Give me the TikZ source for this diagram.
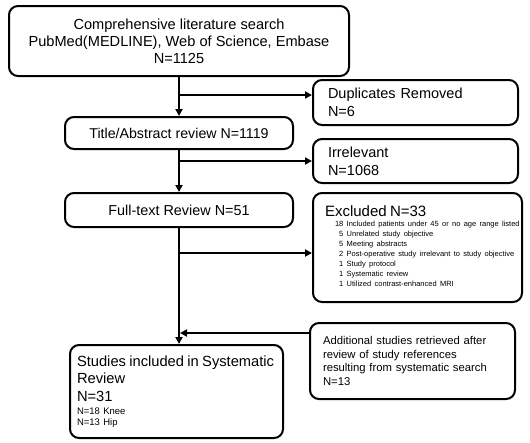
\documentclass[tikz,border=0pt]{standalone}
\usepackage{fontspec}
\setmainfont{Liberation Sans}
\usetikzlibrary{arrows.meta}
\begin{document}
\begin{tikzpicture}[x=1pt,y=-1pt,
  box/.style={draw, line width=2pt, rounded corners=9pt, inner ysep=0pt, inner xsep=0pt},
  lbox/.style={box, text width=#1, align=left},
  conn/.style={line width=2pt},
  arr/.style={conn,-{Triangle[length=7pt,width=7pt]}}]
\useasboundingbox (0,0) rectangle (530,442);
\node[box, minimum width=340pt, minimum height=70pt, align=center,
  font=\fontsize{14.6}{17}\selectfont] (search) at (179,41)
  {Comprehensive literature search\\PubMed(MEDLINE), Web of Science, Embase\\N=1125};
\node[lbox=205pt, minimum height=45pt,
  font=\fontsize{14.5}{18}\selectfont] (dup) at (415.5,102.5)
  {\leftskip=15pt Duplicates Removed\\N=6\par};
\node[box, minimum width=228pt, minimum height=32pt, align=center,
  font=\fontsize{14.2}{16}\selectfont] (title) at (179,133)
  {Title/Abstract review N=1119};
\node[lbox=205pt, minimum height=44pt,
  font=\fontsize{14.5}{18}\selectfont] (irr) at (415.5,161)
  {\leftskip=15pt Irrelevant\\N=1068\par};
\node[box, minimum width=228pt, minimum height=34pt, align=center,
  font=\fontsize{14.4}{16}\selectfont] (full) at (179,210)
  {Full-text Review N=51};
\node[lbox=209pt, minimum height=109pt] (excl) at (417.5,247.5)
  {\leftskip=12pt \fontsize{15}{18}\selectfont Excluded N=33\par
   \vspace{1pt}\fontsize{7.5}{10}\selectfont\hspace*{10pt}\begin{tabular}{@{}r@{\ }l@{}}
   18 & Included patients under 45 or no age range listed\\
   5 & Unrelated study objective\\
   5 & Meeting abstracts\\
   2 & Post-operative study irrelevant to study objective\\
   1 & Study protocol\\
   1 & Systematic review\\
   1 & Utilized contrast-enhanced MRI
   \end{tabular}\par};
\node[lbox=205pt, minimum height=76pt,
  font=\fontsize{11.3}{13.7}\selectfont] (add) at (412.5,361)
  {\leftskip=13pt Additional studies retrieved after\\review of study references\\resulting from systematic search\\N=13\par};
\node[lbox=213pt, minimum height=93pt] (final) at (176.5,391.5)
  {\leftskip=7pt \fontsize{14.7}{17.5}\selectfont Studies included in Systematic\\Review\\N=31\par
   \vspace{2.5pt}\fontsize{9.5}{11}\selectfont N=18 Knee\\N=13 Hip\par};
\coordinate (j1) at (179,95);
\coordinate (j3) at (179,253);
\coordinate (j4) at (180,333);
\draw[arr] (search.south) -- (title.north);
\draw[arr] (j1) -- (j1 -| dup.west);
\draw[arr] (title.south) -- (full.north);
\draw[arr] (title.south |- irr.west) -- (irr.west);
\draw[arr] (j3) -- (j3 -| excl.west);
\draw[arr] (full.south) -- (full.south |- final.north);
\draw[arr] (j4 -| add.west) -- (j4);
\end{tikzpicture}
\end{document}
